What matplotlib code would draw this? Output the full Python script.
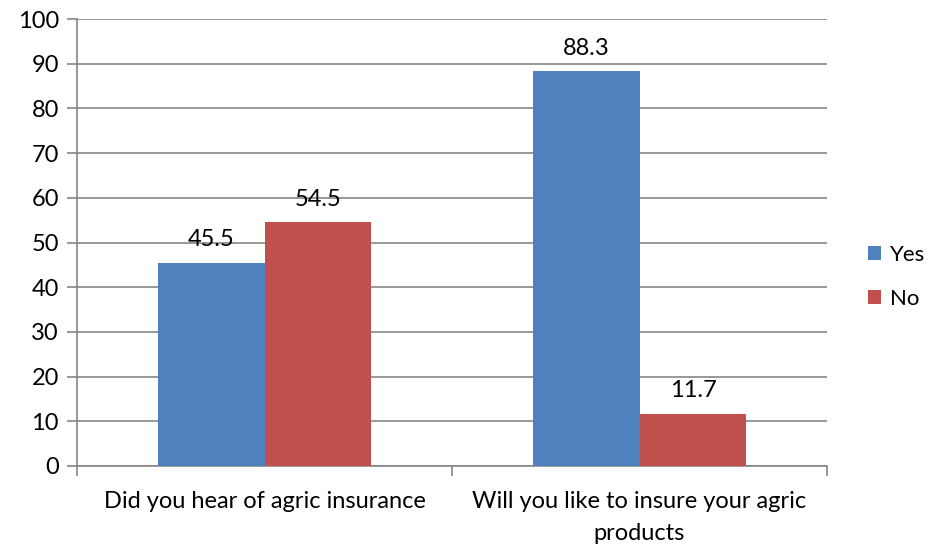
import matplotlib
matplotlib.use("Agg")
import matplotlib.pyplot as plt
import numpy as np

categories = ["Did you hear of agric insurance", "Will you like to insure your agric\nproducts"]
series_names = ["Yes", "No"]
yes_values = [45.5, 88.3]
no_values = [54.5, 11.7]
y_ticks = [0, 10, 20, 30, 40, 50, 60, 70, 80, 90, 100]

plt.rcParams["font.family"] = ["Lato", "DejaVu Sans"]
FS = 17

fig = plt.figure(figsize=(9.30, 5.48), dpi=100)
ax = fig.add_axes([77 / 930, 1 - 466 / 548, 750 / 930, 447 / 548])

x = np.arange(len(categories))
width = 0.285
colors = ["#4F81BD", "#C0504D"]
grid_color = "#868686"

bars_yes = ax.bar(x - width / 2, yes_values, width, color=colors[0], label=series_names[0], zorder=3)
bars_no = ax.bar(x + width / 2, no_values, width, color=colors[1], label=series_names[1], zorder=3)

for bars in (bars_yes, bars_no):
    for b in bars:
        h = b.get_height()
        ax.annotate(f"{h:.1f}", (b.get_x() + b.get_width() / 2, h),
                    xytext=(0, 9), textcoords="offset points",
                    ha="center", va="bottom", fontsize=FS, color="#000000")

ax.set_xlim(-0.5, len(categories) - 0.5)
ax.set_ylim(0, 100)
ax.set_yticks(y_ticks)
ax.tick_params(axis="y", labelsize=FS, length=7, color=grid_color, width=1.2, pad=6)
ax.yaxis.grid(True, color=grid_color, linewidth=1.2, zorder=0)
ax.set_axisbelow(True)

# category labels centred under each group, ticks on the group boundaries
ax.set_xticks(np.arange(-0.5, len(categories), 1.0))
ax.set_xticklabels([])
ax.tick_params(axis="x", length=7, color=grid_color, width=1.2)
for xi, label in zip(x, categories):
    ax.text(xi, -5.6, label, ha="center", va="top", fontsize=FS, linespacing=1.65,
            transform=ax.transData)

for side in ("top", "right"):
    ax.spines[side].set_visible(False)
for side in ("left", "bottom"):
    ax.spines[side].set_color(grid_color)
    ax.spines[side].set_linewidth(1.2)

leg = fig.legend(handles=[bars_yes, bars_no], labels=series_names,
                 loc="center left", bbox_to_anchor=(868 / 930, 1 - 277 / 548),
                 frameon=False, fontsize=16, handlelength=0.6, handleheight=0.6,
                 handletextpad=0.4, labelspacing=1.1, borderaxespad=0, borderpad=0)

fig.savefig("out.png", dpi=100)
